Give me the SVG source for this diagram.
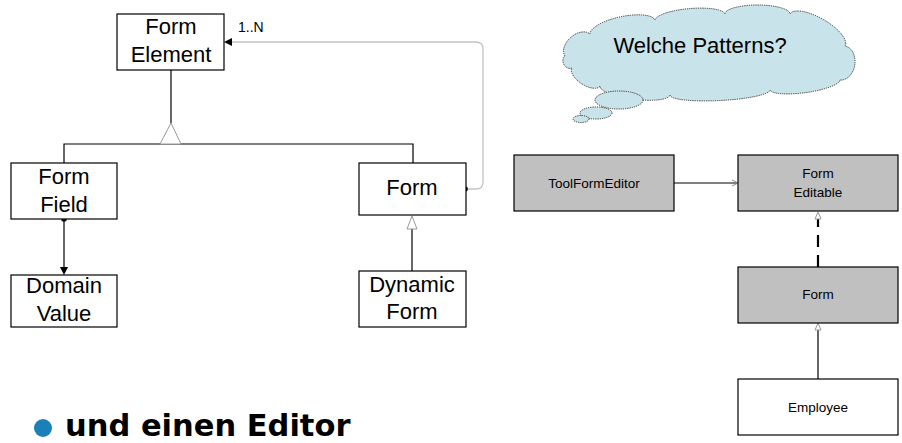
<svg xmlns="http://www.w3.org/2000/svg" width="902" height="443" viewBox="0 0 902 443">
<style>
.box{fill:#fff;stroke:#000;stroke-width:1.2}
.gbox{fill:#c0c0c0;stroke:#000;stroke-width:1.2}
.t{font-family:"Liberation Sans",Arial,sans-serif;font-size:22px;fill:#000;text-anchor:middle}
.s{font-family:"Liberation Sans",Arial,sans-serif;font-size:13.5px;fill:#000;text-anchor:middle}
.ln{fill:none;stroke:#000;stroke-width:1.2}
.hollow{fill:#fff;stroke:#999;stroke-width:1}
.cl{fill:#c8e4ea;stroke:#333;stroke-width:1;stroke-dasharray:1.2 1}
</style>
<rect width="902" height="443" fill="#fff"/>

<g id="cloud">
<path class="cl" d="M565,56 A16.7,11 -41 0 1 590,34 A33.3,11 -12 0 1 655,20 A35.2,9 -5 0 1 725,14 A32.5,9 0 0 1 790,14 A31.8,12 30 0 1 845,46 A17.2,13 98 0 1 840,80 A35.4,8 172 0 1 770,90 A50,8 177 0 1 670,95 A35.3,9 187 0 1 600,86 A16.6,8 213 0 1 572,68 A7,6 240 0 1 565,56 Z"/>
<ellipse class="cl" cx="619" cy="100" rx="24" ry="9"/>
<ellipse class="cl" cx="596" cy="113" rx="16" ry="6"/>
<ellipse class="cl" cx="581" cy="119" rx="8" ry="3.5"/>
<text class="t" x="700" y="53">Welche Patterns?</text>
</g>

<g id="connectors">
<path class="ln" d="M171,70 V123"/>
<path class="ln" d="M64,163 V144 H413 V163"/>
<path d="M171,123 L181,144 L160,144 Z" class="hollow"/>
<path d="M465,189 H476 Q483,189 483,182 V49 Q483,42 476,42 H230" fill="none" stroke="#c4c4c4" stroke-width="1.3"/>
<circle cx="465" cy="189" r="2.8" fill="#000"/>
<path d="M224,42 L232,38 L232,46 Z" fill="#000"/>
<path class="ln" d="M64,219 V269"/>
<circle cx="64" cy="219" r="2.8" fill="#000"/>
<path d="M64,275 L60,267 L68,267 Z" fill="#000"/>
<path class="ln" d="M412,271 V229"/>
<path d="M412,216 L417,229 L407,229 Z" class="hollow"/>
<path class="ln" d="M674,183 H737"/>
<path d="M732,180 L738,183 L732,186" fill="none" stroke="#888" stroke-width="1"/>
<path d="M818,267 V219" fill="none" stroke="#000" stroke-width="2.2" stroke-dasharray="12 8"/>
<path d="M818,212 L821,219 L815,219 Z" class="hollow"/>
<path class="ln" d="M818,379 V330"/>
<path d="M818,323 L821,330 L815,330 Z" class="hollow"/>
</g>

<g id="form-element"><rect class="box" x="117" y="14" width="107" height="56"/><text class="t" x="171" y="34">Form</text><text class="t" x="171" y="62">Element</text></g>
<g id="form-field"><rect class="box" x="11" y="163" width="106" height="56"/><text class="t" x="64" y="184">Form</text><text class="t" x="64" y="212">Field</text></g>
<g id="form"><rect class="box" x="359" y="163" width="107" height="52"/><text class="t" x="412" y="195">Form</text></g>
<g id="domain-value"><rect class="box" x="11" y="275" width="106" height="52"/><text class="t" x="64" y="293">Domain</text><text class="t" x="64" y="321">Value</text></g>
<g id="dynamic-form"><rect class="box" x="359" y="271" width="107" height="56"/><text class="t" x="412" y="292">Dynamic</text><text class="t" x="412" y="319">Form</text></g>
<text x="238" y="32" font-family="Liberation Sans,Arial,sans-serif" font-size="14">1..N</text>

<g id="tool-form-editor"><rect class="gbox" x="514" y="155" width="160" height="56"/><text class="s" x="594" y="188">ToolFormEditor</text></g>
<g id="form-editable"><rect class="gbox" x="738" y="155" width="160" height="56"/><text class="s" x="818" y="178">Form</text><text class="s" x="818" y="197">Editable</text></g>
<g id="form2"><rect class="gbox" x="738" y="267" width="160" height="56"/><text class="s" x="818" y="299">Form</text></g>
<g id="employee"><rect class="box" x="738" y="379" width="160" height="56"/><text class="s" x="818" y="412">Employee</text></g>

<circle cx="43" cy="428" r="9" fill="#1b80b8"/>
<text x="65" y="436" font-family="DejaVu Sans,Verdana,sans-serif" font-weight="bold" font-size="30.5">und einen Editor</text>
</svg>
